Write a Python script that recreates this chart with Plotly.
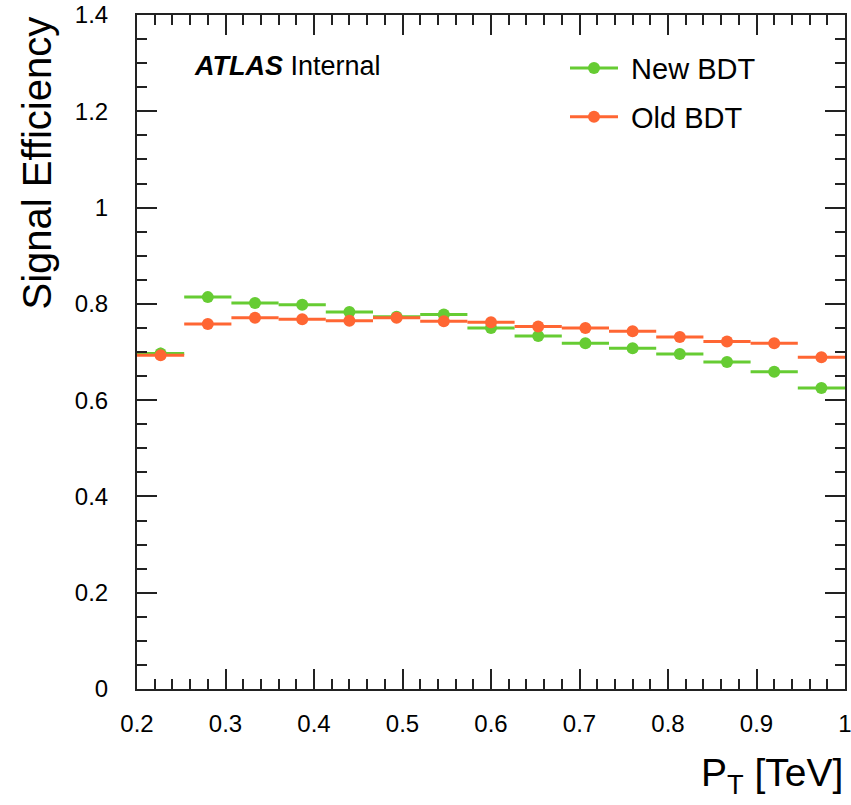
import plotly.graph_objects as go

# Bin edges / centres (15 bins from 0.2 to 1.0 TeV)
bin_lo = 0.2
bin_hi = 1.0
n_bins = 15
bin_width = (bin_hi - bin_lo) / n_bins
pt_centers = [bin_lo + bin_width * (i + 0.5) for i in range(n_bins)]
pt_halfwidth = [bin_width / 2] * n_bins

new_bdt = [0.697, 0.814, 0.802, 0.798, 0.783, 0.773, 0.778, 0.750, 0.733, 0.718,
           0.708, 0.696, 0.679, 0.659, 0.625]
new_bdt_err = [0.012, 0.004, 0.004, 0.004, 0.004, 0.004, 0.004, 0.004, 0.004, 0.004,
               0.004, 0.004, 0.004, 0.004, 0.004]
old_bdt = [0.693, 0.758, 0.771, 0.768, 0.765, 0.771, 0.764, 0.762, 0.753, 0.750,
           0.743, 0.731, 0.722, 0.718, 0.689]
old_bdt_err = [0.004] * n_bins

x_tickvals = [0.2, 0.3, 0.4, 0.5, 0.6, 0.7, 0.8, 0.9, 1.0]
x_ticktext = ["0.2", "0.3", "0.4", "0.5", "0.6", "0.7", "0.8", "0.9", "1"]
y_tickvals = [0, 0.2, 0.4, 0.6, 0.8, 1.0, 1.2, 1.4]
y_ticktext = ["0", "0.2", "0.4", "0.6", "0.8", "1", "1.2", "1.4"]

GREEN = "rgb(102,204,51)"
ORANGE = "rgb(255,102,51)"
FONT = "Liberation Sans, Arial, Helvetica, sans-serif"

fig = go.Figure()

for name, vals, errs, col in [("New BDT", new_bdt, new_bdt_err, GREEN),
                              ("Old BDT", old_bdt, old_bdt_err, ORANGE)]:
    fig.add_trace(go.Scatter(
        x=pt_centers, y=vals, mode="markers", showlegend=False,
        marker=dict(color=col, size=12, line=dict(width=0)),
        error_x=dict(type="data", array=pt_halfwidth, color=col, thickness=3, width=0),
        error_y=dict(type="data", array=errs, color=col, thickness=2, width=0),
    ))
    # legend entry (line + marker glyph)
    fig.add_trace(go.Scatter(
        x=[None], y=[None], mode="lines+markers", name="&nbsp;" + name,
        legendgroup=name,
        marker=dict(color=col, size=12),
        line=dict(color=col, width=3),
    ))

axis_common = dict(
    showgrid=False, zeroline=False, showline=True, linecolor="#222", linewidth=2,
    mirror="allticks", ticks="inside", tickcolor="#222", tickwidth=2, ticklen=20,
    tickfont=dict(family=FONT, size=24, color="#000"), automargin=False,
    ticklabeloverflow="allow",
)

fig.update_xaxes(range=[0.2, 1.0],
                 tickvals=x_tickvals, ticktext=x_ticktext, ticklabelstandoff=12,
                 minor=dict(ticks="inside", ticklen=10, dtick=0.02, tick0=0.2,
                            tickcolor="#222", tickwidth=2, showgrid=False),
                 **axis_common)
fig.update_yaxes(range=[0, 1.4],
                 tickvals=y_tickvals, ticktext=y_ticktext, ticklabelstandoff=22,
                 minor=dict(ticks="inside", ticklen=10, dtick=0.05, tick0=0,
                            tickcolor="#222", tickwidth=2, showgrid=False),
                 **axis_common)

fig.update_layout(
    width=851, height=805,
    margin=dict(l=137, r=6, t=15, b=116),
    paper_bgcolor="white", plot_bgcolor="white",
    font=dict(family=FONT, color="#000"),
    legend=dict(x=(565 - 137) / 708, y=0.959, xanchor="left", yanchor="top",
                bgcolor="rgba(0,0,0,0)", font=dict(size=29, family=FONT),
                traceorder="grouped", tracegroupgap=8, itemwidth=48),
    annotations=[
        dict(text="<b><i>ATLAS</i></b> Internal", xref="paper", yref="paper",
             x=(192 - 137) / 708, y=1 - (66 - 15) / 674, xanchor="left", yanchor="middle",
             showarrow=False, font=dict(size=27, family=FONT)),
        dict(text="Signal Efficiency", xref="paper", yref="paper", textangle=-90,
             x=(36 - 137) / 708, y=1.0, xanchor="center", yanchor="top",
             showarrow=False, font=dict(size=40, family=FONT)),
        dict(text="P<sub>T</sub> [TeV]", xref="paper", yref="paper",
             x=1.0, y=-(802 - 689) / 674, xanchor="right", yanchor="bottom",
             showarrow=False, font=dict(size=39, family=FONT)),
    ],
)

fig.write_html("out.html")
